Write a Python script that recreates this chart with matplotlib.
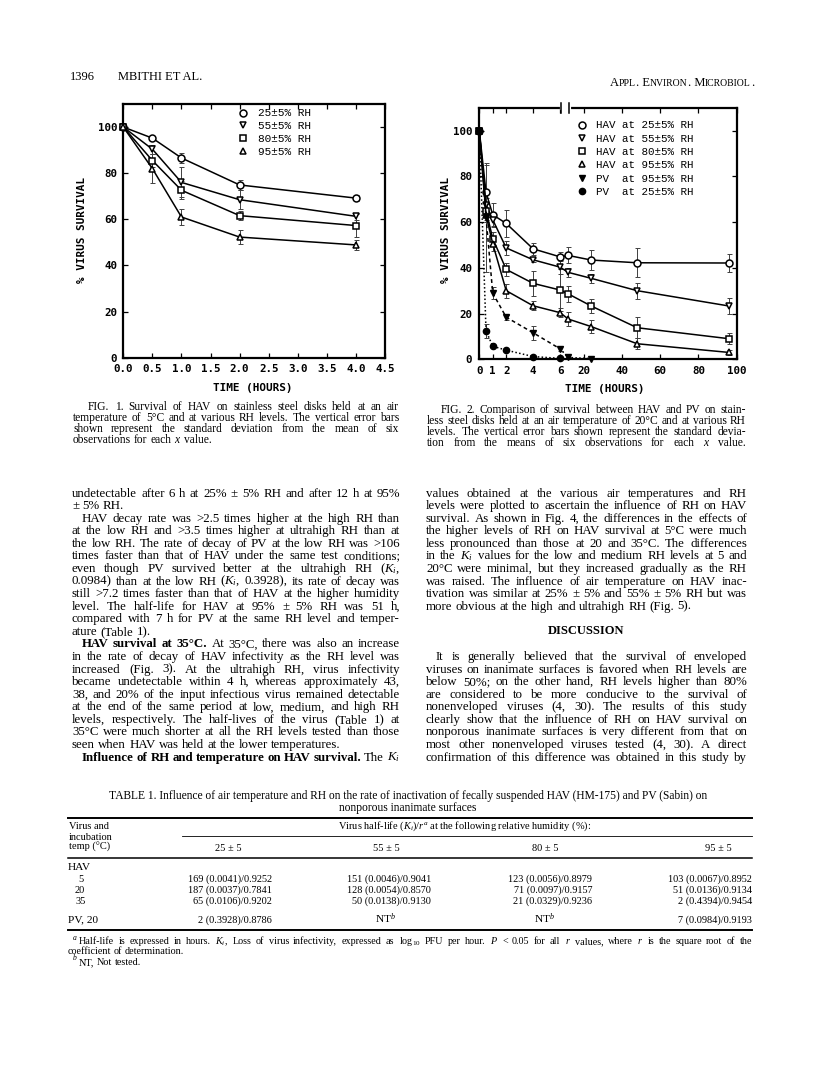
import numpy as np
import matplotlib
matplotlib.use('Agg')
import matplotlib.pyplot as plt
from matplotlib.lines import Line2D

plt.rcParams['mathtext.fontset'] = 'custom'
plt.rcParams['mathtext.rm'] = 'Liberation Serif'
plt.rcParams['mathtext.it'] = 'Liberation Serif:italic'
plt.rcParams['mathtext.bf'] = 'Liberation Serif:bold'

# ---------------- data: Fig. 1 (5 C) ----------------
f1_time = [0, 0.5, 1, 2, 4]
f1_rh25 = [100, 95.2, 86.6, 74.9, 69.2]
f1_rh25_sd = [0, 1.0, 2.2, 2.2, 1.2]
f1_rh55 = [100, 90.4, 76.0, 68.5, 61.3]
f1_rh55_sd = [0, 2.0, 6.5, 4.0, 1.5]
f1_rh80 = [100, 85.5, 72.6, 61.6, 57.3]
f1_rh80_sd = [0, 3.0, 4.0, 2.0, 5.0]
f1_rh95 = [100, 82.0, 61.0, 52.3, 48.9]
f1_rh95_sd = [0, 6.3, 3.5, 3.0, 2.0]
f1_labels = ['25\u00b15% RH', '55\u00b15% RH', '80\u00b15% RH', '95\u00b15% RH']
f1_xticks = [0, 0.5, 1, 1.5, 2, 2.5, 3, 3.5, 4, 4.5]
f1_xticklabels = ['0.0', '0.5', '1.0', '1.5', '2.0', '2.5', '3.0', '3.5', '4.0', '4.5']
f1_yticks = [0, 20, 40, 60, 80, 100]

# ---------------- data: Fig. 2 (20 C) ----------------
f2_time = [0, 0.5, 1, 2, 4, 6, 12, 24, 48, 96]
f2_hav25 = [100, 73.0, 63.2, 59.4, 48.3, 44.8, 45.4, 43.4, 42.2, 42.1]
f2_hav25_sd = [0, 12, 5, 6, 2.5, 2, 3.5, 4.5, 6.3, 4]
f2_hav55 = [100, 67.6, 61.0, 48.7, 43.5, 40.3, 38.0, 35.4, 30.0, 23.3]
f2_hav55_sd = [0, 3, 3, 3, 1, 3, 2, 2, 3.5, 3.5]
f2_hav80 = [100, 65.0, 52.8, 39.3, 33.2, 30.3, 28.6, 23.3, 13.8, 9.0]
f2_hav80_sd = [0, 3, 3, 3, 5.5, 9, 3.5, 3, 4.5, 2.5]
f2_hav95 = [100, 63.0, 50.5, 30.0, 23.4, 20.4, 17.6, 14.3, 6.8, 3.0]
f2_hav95_sd = [0, 3, 3, 3, 2, 2, 3, 3, 2.5, 1]
f2_pv95_time = [0, 0.5, 1, 2, 4, 6, 12, 24]
f2_pv95 = [100, 62.0, 28.9, 18.4, 11.6, 4.6, 0.8, 0.3]
f2_pv95_sd = [0, 24, 2.5, 1, 3, 1, 0, 0]
f2_pv25_time = [0, 0.5, 1, 2, 4, 6]
f2_pv25 = [100, 12.4, 5.7, 4.0, 1.2, 0.4]
f2_pv25_sd = [0, 3, 0, 0, 0, 0]
f2_labels = ['HAV at 25\u00b15% RH', 'HAV at 55\u00b15% RH', 'HAV at 80\u00b15% RH',
             'HAV at 95\u00b15% RH', 'PV  at 95\u00b15% RH', 'PV  at 25\u00b15% RH']
f2_xticks = [0, 1, 2, 4, 6, 20, 40, 60, 80, 100]
f2_yticks = [0, 20, 40, 60, 80, 100]

# ---------------- table ----------------
tbl_rh_headers = ['25 \u00b1 5', '55 \u00b1 5', '80 \u00b1 5', '95 \u00b1 5']
tbl_row_labels = ['5', '20', '35']
tbl_hav = [
    ['169 (0.0041)/0.9252', '151 (0.0046)/0.9041', '123 (0.0056)/0.8979', '103 (0.0067)/0.8952'],
    ['187 (0.0037)/0.7841', '128 (0.0054)/0.8570', '71 (0.0097)/0.9157', '51 (0.0136)/0.9134'],
    ['65 (0.0106)/0.9202', '50 (0.0138)/0.9130', '21 (0.0329)/0.9236', '2 (0.4394)/0.9454'],
]
tbl_pv = ['2 (0.3928)/0.8786', 'NT$^{b}$', 'NT$^{b}$', '7 (0.0984)/0.9193']

# ---------------- page ----------------
W, H = 816, 1081
fig = plt.figure(figsize=(W / 100, H / 100), dpi=100)
fig.patch.set_facecolor('white')
renderer = fig.canvas.get_renderer()
SERIF = 'Liberation Serif'
MONO = 'DejaVu Sans Mono'
LMONO = 'Liberation Mono'


def fx(x):
    return x / W


def fy(y):
    return 1 - y / H


def parse_runs(line):
    parts = line.split('*')
    out = []
    for i, p in enumerate(parts):
        wt = 'bold' if i % 2 == 1 else 'normal'
        for w in p.split():
            out.append((w, wt))
    return out


def put_line(line, x0, x1, yc, size, justify=True, family=SERIF):
    words = parse_runs(line)
    while True:
        ts, ws = [], []
        base = yc + size * 100 / 72 * 0.28
        for w, wt in words:
            t = fig.text(0, fy(base), w, fontsize=size, fontweight=wt, family=family,
                         ha='left', va='baseline')
            ws.append(t.get_window_extent(renderer).width)
            ts.append(t)
        sp = size * 100 / 72 * 0.25
        if justify and len(ts) > 1:
            gap = (x1 - x0 - sum(ws)) / (len(ts) - 1)
        else:
            gap = sp
        if gap >= size * 100 / 72 * 0.17 or size < 5:
            break
        for t in ts:
            t.remove()
        size *= 0.98
    x = x0
    for t, w in zip(ts, ws):
        t.set_x(fx(x))
        x += w + gap


def put_block(lines, x0, x1, y0, dy, size, indent=10):
    for i, spec in enumerate(lines):
        if spec is None:
            continue
        txt, just, ind = spec
        put_line(txt, x0 + (indent if ind else 0), x1, y0 + i * dy, size, just)


def small_caps(segments, xr, yc, big, small):
    ts, ws = [], []
    base = yc + big * 100 / 72 * 0.3
    for s, isbig in segments:
        t = fig.text(0, fy(base), s, fontsize=big if isbig else small, family=SERIF,
                     ha='left', va='baseline')
        ws.append(t.get_window_extent(renderer).width)
        ts.append(t)
    x = xr - sum(ws)
    for t, w in zip(ts, ws):
        t.set_x(fx(x))
        x += w


# header
fig.text(fx(70), fy(80.5), '1396', fontsize=9, family=SERIF, va='baseline')
fig.text(fx(118), fy(80.5), 'MBITHI ET AL.', fontsize=9, family=SERIF, va='baseline')
small_caps([('A', 1), ('PPL', 0), ('. E', 1), ('NVIRON', 0), ('. M', 1), ('ICROBIOL', 0), ('.', 1)],
           754, 82, 9, 7.0)

# ---------------- Fig. 1 ----------------
ax1 = fig.add_axes([fx(123.3), fy(357.7), (385 - 123.3) / W, (357.7 - 104) / H])
f1_series = [(f1_rh25, f1_rh25_sd, 'o'), (f1_rh55, f1_rh55_sd, 'v'),
             (f1_rh80, f1_rh80_sd, 's'), (f1_rh95, f1_rh95_sd, '^')]
for (vals, sd, mk) in f1_series:
    ax1.errorbar(f1_time, vals, yerr=sd, fmt='none', ecolor='0.25', elinewidth=0.7,
                 capsize=1.8, capthick=0.7, zorder=2)
    ax1.plot(f1_time, vals, '-', color='black', lw=1.1, marker=mk, ms=5, mfc='white',
             mec='black', mew=1.1, zorder=3, clip_on=False)
ax1.set_xlim(0, 4.5)
ax1.set_ylim(0, 110)
ax1.set_xticks(f1_xticks)
ax1.set_xticklabels(f1_xticklabels, fontfamily=MONO, fontweight='bold', fontsize=7.8)
ax1.set_yticks(f1_yticks)
ax1.set_yticklabels([str(v) for v in f1_yticks], fontfamily=MONO, fontweight='bold', fontsize=7.8)
ax1.tick_params(direction='in', top=True, right=True, length=3.5, width=0.9, pad=4.5)
for s in ax1.spines.values():
    s.set_linewidth(1.6)
h1 = [Line2D([], [], ls='none', marker=m, ms=5, mfc='white', mec='black', mew=1.1)
      for m in ['o', 'v', 's', '^']]
ax1.legend(h1, f1_labels, loc='upper left', bbox_to_anchor=(fx(238.5), fy(108.5)),
           bbox_transform=fig.transFigure, frameon=False,
           prop={'family': LMONO, 'size': 8.0}, handlelength=0.8, handletextpad=0.95,
           labelspacing=0.25, borderpad=0, borderaxespad=0)
fig.text(fx(253), fy(388), 'TIME (HOURS)', fontsize=7.9, fontweight='bold', family=MONO,
         ha='center', va='center')
fig.text(fx(82), fy(230), '% VIRUS SURVIVAL', fontsize=7.9, fontweight='bold', family=MONO,
         ha='center', va='center', rotation=90)

# ---------------- Fig. 2 ----------------
_T = np.array([-50.0, 0.0, 6.0, 7.8, 100.0, 200.0])
_U = np.array([-672.5, 0.0, 80.7, 80.9, 257.4, 449.1])


def _fwd(t):
    return np.interp(t, _T, _U)


def _inv(u):
    return np.interp(u, _U, _T)


ax2 = fig.add_axes([fx(479.3), fy(359.3), (736.7 - 479.3) / W, (359.3 - 107.7) / H])
ax2.set_xscale('function', functions=(_fwd, _inv))
hav_series = [(f2_hav25, f2_hav25_sd, 'o'), (f2_hav55, f2_hav55_sd, 'v'),
              (f2_hav80, f2_hav80_sd, 's'), (f2_hav95, f2_hav95_sd, '^')]
for (vals, sd, mk) in hav_series:
    ax2.errorbar(f2_time, vals, yerr=sd, fmt='none', ecolor='0.25', elinewidth=0.7,
                 capsize=1.8, capthick=0.7, zorder=2)
    ax2.plot(f2_time, vals, '-', color='black', lw=1.1, marker=mk, ms=5, mfc='white',
             mec='black', mew=1.1, zorder=3, clip_on=False)
ax2.errorbar(f2_pv95_time, f2_pv95, yerr=f2_pv95_sd, fmt='none', ecolor='0.25',
             elinewidth=0.7, capsize=1.8, capthick=0.7, zorder=2)
ax2.plot(f2_pv95_time[:2], f2_pv95[:2], ls=(0, (1, 1.5)), color='black', lw=1.1, zorder=3)
ax2.plot(f2_pv95_time[1:6], f2_pv95[1:6], ls=(0, (2.5, 2)), color='black', lw=1.1, zorder=3)
ax2.plot(f2_pv95_time[5:], f2_pv95[5:], ls=(0, (1, 1.5)), color='black', lw=1.1, zorder=3)
ax2.plot(f2_pv95_time, f2_pv95, ls='none', marker='v', ms=4.5, mfc='black', mec='black',
         zorder=4, clip_on=False)
ax2.errorbar(f2_pv25_time, f2_pv25, yerr=f2_pv25_sd, fmt='none', ecolor='0.25',
             elinewidth=0.7, capsize=1.8, capthick=0.7, zorder=2)
ax2.plot(f2_pv25_time, f2_pv25, ls=(0, (1, 1.5)), color='black', lw=1.1, marker='o', ms=4.5,
         mfc='black', mec='black', zorder=4, clip_on=False)
ax2.set_xlim(0, 100)
ax2.set_ylim(0, 110)
ax2.set_xticks(f2_xticks)
ax2.set_xticklabels([str(v) for v in f2_xticks], fontfamily=MONO, fontweight='bold', fontsize=7.8)
ax2.xaxis.set_minor_locator(matplotlib.ticker.NullLocator())
ax2.set_yticks(f2_yticks)
ax2.set_yticklabels([str(v) for v in f2_yticks], fontfamily=MONO, fontweight='bold', fontsize=7.8)
ax2.tick_params(direction='in', top=True, right=True, length=3.5, width=0.9, pad=5)
for s in ax2.spines.values():
    s.set_linewidth(1.6)
h2 = [Line2D([], [], ls='none', marker=m, ms=5, mfc='white', mec='black', mew=1.1)
      for m in ['o', 'v', 's', '^']]
h2 += [Line2D([], [], ls='none', marker='v', ms=4.5, mfc='black', mec='black'),
       Line2D([], [], ls='none', marker='o', ms=4.5, mfc='black', mec='black')]
ax2.legend(h2, f2_labels, loc='upper left', bbox_to_anchor=(fx(577.5), fy(120.5)),
           bbox_transform=fig.transFigure, frameon=False,
           prop={'family': LMONO, 'size': 7.8}, handlelength=0.8, handletextpad=0.95,
           labelspacing=0.3, borderpad=0, borderaxespad=0)
# axis break on top spine
fig.add_artist(Line2D([fx(561.5), fx(568.5)], [fy(107.7), fy(107.7)], color='white', lw=3,
                      transform=fig.transFigure, zorder=10))
for xb in (560.7, 569.3):
    fig.add_artist(Line2D([fx(xb), fx(xb)], [fy(102.7), fy(112.7)], color='black', lw=1.1,
                          transform=fig.transFigure, zorder=11))
fig.text(fx(605), fy(389), 'TIME (HOURS)', fontsize=7.9, fontweight='bold', family=MONO,
         ha='center', va='center')
fig.text(fx(446), fy(230), '% VIRUS SURVIVAL', fontsize=7.9, fontweight='bold', family=MONO,
         ha='center', va='center', rotation=90)

# ---------------- captions ----------------
CAP_FS = 8.3
cap1 = [('FIG. 1. Survival of HAV on stainless steel disks held at an air', True, True),
        ('temperature of 5\u00b0C and at various RH levels. The vertical error bars', True, False),
        ('shown represent the standard deviation from the mean of six', True, False),
        ('observations for each $x$ value.', False, False)]
put_block(cap1, 73, 399, 407, 11, CAP_FS, indent=15)
cap2 = [('FIG. 2. Comparison of survival between HAV and PV on stain-', True, True),
        ('less steel disks held at an air temperature of 20\u00b0C and at various RH', True, False),
        ('levels. The vertical error bars shown represent the standard devia-', True, False),
        ('tion from the means of six observations for each $x$ value.', True, False)]
put_block(cap2, 427, 746, 410, 11, CAP_FS, indent=14)

# ---------------- body text ----------------
left_col = [
    ('undetectable after 6 h at 25% \u00b1 5% RH and after 12 h at 95%', True, False),
    ('\u00b1 5% RH.', False, False),
    ('HAV decay rate was >2.5 times higher at the high RH than', True, True),
    ('at the low RH and >3.5 times higher at ultrahigh RH than at', True, False),
    ('the low RH. The rate of decay of PV at the low RH was >106', True, False),
    ('times faster than that of HAV under the same test conditions;', True, False),
    ('even though PV survived better at the ultrahigh RH ($K_i$,', True, False),
    ('0.0984) than at the low RH ($K_i$, 0.3928), its rate of decay was', True, False),
    ('still >7.2 times faster than that of HAV at the higher humidity', True, False),
    ('level. The half-life for HAV at 95% \u00b1 5% RH was 51 h,', True, False),
    ('compared with 7 h for PV at the same RH level and temper-', True, False),
    ('ature (Table 1).', False, False),
    ('*HAV survival at 35\u00b0C.* At 35\u00b0C, there was also an increase', True, True),
    ('in the rate of decay of HAV infectivity as the RH level was', True, False),
    ('increased (Fig. 3). At the ultrahigh RH, virus infectivity', True, False),
    ('became undetectable within 4 h, whereas approximately 43,', True, False),
    ('38, and 20% of the input infectious virus remained detectable', True, False),
    ('at the end of the same period at low, medium, and high RH', True, False),
    ('levels, respectively. The half-lives of the virus (Table 1) at', True, False),
    ('35\u00b0C were much shorter at all the RH levels tested than those', True, False),
    ('seen when HAV was held at the lower temperatures.', False, False),
    ('*Influence of RH and temperature on HAV survival.* The $K_i$', True, True),
]
BODY_Y0, BODY_DY, BODY_FS = 493, 12.57, 9.3
put_block(left_col, 72, 400, BODY_Y0, BODY_DY, BODY_FS, indent=10)
right_col = [
    ('values obtained at the various air temperatures and RH', True, False),
    ('levels were plotted to ascertain the influence of RH on HAV', True, False),
    ('survival. As shown in Fig. 4, the differences in the effects of', True, False),
    ('the higher levels of RH on HAV survival at 5\u00b0C were much', True, False),
    ('less pronounced than those at 20 and 35\u00b0C. The differences', True, False),
    ('in the $K_i$ values for the low and medium RH levels at 5 and', True, False),
    ('20\u00b0C were minimal, but they increased gradually as the RH', True, False),
    ('was raised. The influence of air temperature on HAV inac-', True, False),
    ('tivation was similar at 25% \u00b1 5% and 55% \u00b1 5% RH but was', True, False),
    ('more obvious at the high and ultrahigh RH (Fig. 5).', False, False),
    None, None, None,
    ('It is generally believed that the survival of enveloped', True, True),
    ('viruses on inanimate surfaces is favored when RH levels are', True, False),
    ('below 50%; on the other hand, RH levels higher than 80%', True, False),
    ('are considered to be more conducive to the survival of', True, False),
    ('nonenveloped viruses (4, 30). The results of this study', True, False),
    ('clearly show that the influence of RH on HAV survival on', True, False),
    ('nonporous inanimate surfaces is very different from that on', True, False),
    ('most other nonenveloped viruses tested (4, 30). A direct', True, False),
    ('confirmation of this difference was obtained in this study by', True, False),
]
put_block(right_col, 426, 747, BODY_Y0, BODY_DY, BODY_FS, indent=10)
fig.text(fx(586), fy(BODY_Y0 + 11.0 * BODY_DY + 3), 'DISCUSSION', fontsize=9.0,
         fontweight='bold', family=SERIF, ha='center', va='baseline')

# ---------------- table ----------------
TFS = 7.5
fig.text(fx(408), fy(798.5), 'TABLE 1. Influence of air temperature and RH on the rate of inactivation '
         'of fecally suspended HAV (HM-175) and PV (Sabin) on', fontsize=8.3, family=SERIF,
         ha='center', va='baseline')
fig.text(fx(408), fy(810.5), 'nonporous inanimate surfaces', fontsize=8.3, family=SERIF,
         ha='center', va='baseline')


def hrule(y, x0, x1, lw):
    fig.add_artist(Line2D([fx(x0), fx(x1)], [fy(y), fy(y)], color='black', lw=lw,
                          transform=fig.transFigure))


hrule(818, 68, 752, 1.4)
hrule(836, 182, 752, 0.6)
hrule(858, 68, 752, 1.1)
hrule(930, 68, 752, 1.4)
for i, s in enumerate(['Virus and', 'incubation', 'temp (\u00b0C)']):
    fig.text(fx(69), fy(829 + i * 10.5), s, fontsize=TFS, family=SERIF, ha='left', va='baseline')
fig.text(fx(465), fy(829), 'Virus half-life ($K_i$)/$r^a$ at the following relative humidity (%):',
         fontsize=TFS, family=SERIF, ha='center', va='baseline')
col_centers = [228, 386, 545, 718]
col_rights = [272, 431, 592, 752]
for c, hd in zip(col_centers, tbl_rh_headers):
    fig.text(fx(c), fy(851), hd, fontsize=TFS, family=SERIF, ha='center', va='baseline')
fig.text(fx(68), fy(870.5), 'HAV', fontsize=8.2, family=SERIF, ha='left', va='baseline')
row_y = [882, 893, 904]
for lab, ry, row in zip(tbl_row_labels, row_y, tbl_hav):
    fig.text(fx(78 if len(lab) == 1 else 75), fy(ry), lab, fontsize=7.5, family=SERIF,
             ha='left', va='baseline')
    for xr, cell in zip(col_rights, row):
        fig.text(fx(xr), fy(ry), cell, fontsize=7.4, family=SERIF, ha='right', va='baseline')
fig.text(fx(68), fy(922.5), 'PV, 20', fontsize=8.2, family=SERIF, ha='left', va='baseline')
for j, (xr, cell) in enumerate(zip(col_rights, tbl_pv)):
    if cell.startswith('NT'):
        fig.text(fx(col_centers[j]), fy(922.5), cell, fontsize=8.2, family=SERIF, ha='center',
                 va='baseline')
    else:
        fig.text(fx(xr), fy(922.5), cell, fontsize=7.4, family=SERIF, ha='right', va='baseline')

# footnotes
FN_FS = 7.3
fig.text(fx(73), fy(939.5), 'a', fontsize=5.5, style='italic', family=SERIF, ha='left', va='baseline')
put_line('Half-life is expressed in hours. $K_i$, Loss of virus infectivity, expressed as '
         'log$_{10}$ PFU per hour. $P$ < 0.05 for all $r$ values, where $r$ is the square root of the',
         79, 752, 941, FN_FS, True)
put_line('coefficient of determination.', 68, 752, 951.5, FN_FS, False)
fig.text(fx(73), fy(959.5), 'b', fontsize=5.5, style='italic', family=SERIF, ha='left', va='baseline')
put_line('NT, Not tested.', 79, 752, 962, FN_FS, False)

fig.savefig('out.png', dpi=100, facecolor='white')
